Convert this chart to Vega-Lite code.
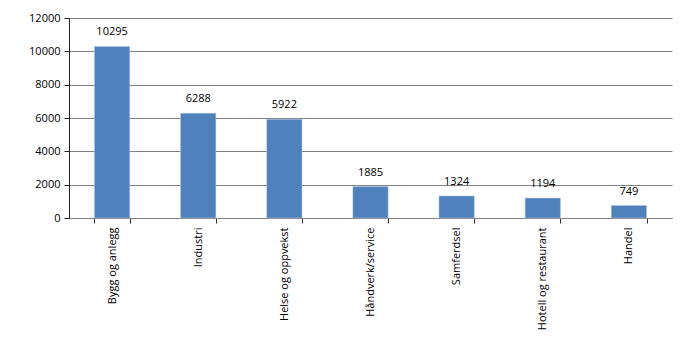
{
  "$schema": "https://vega.github.io/schema/vega-lite/v6.json",
  "autosize": "none",
  "width": 603,
  "height": 200,
  "padding": {"left": 69, "top": 18, "right": 28, "bottom": 144},
  "background": "white",
  "config": {"view": {"stroke": null}, "font": "Open Sans"},
  "data": {"values": [
    {"kategori": "Bygg og anlegg", "antall": 10295},
    {"kategori": "Industri", "antall": 6288},
    {"kategori": "Helse og oppvekst", "antall": 5922},
    {"kategori": "Håndverk/service", "antall": 1885},
    {"kategori": "Samferdsel", "antall": 1324},
    {"kategori": "Hotell og restaurant", "antall": 1194},
    {"kategori": "Handel", "antall": 749}
  ]},
  "encoding": {
    "x": {"field": "kategori", "type": "nominal", "sort": null,
      "scale": {"paddingInner": 0.59, "paddingOuter": 0.295},
      "axis": {"title": null, "labelAngle": -90, "labelAlign": "right", "labelBaseline": "middle",
        "labelFontSize": 11, "labelColor": "#000", "labelPadding": 4, "tickBand": "extent",
        "domainColor": "#808080", "tickColor": "#333", "tickSize": 5, "grid": false}},
    "y": {"field": "antall", "type": "quantitative",
      "scale": {"domain": [0, 12000], "nice": false},
      "axis": {"title": null, "values": [0, 2000, 4000, 6000, 8000, 10000, 12000], "format": "d",
        "labelFontSize": 11, "labelColor": "#000", "labelPadding": 4,
        "domainColor": "#222", "tickColor": "#222", "tickSize": 5,
        "gridColor": "#7f7f7f", "gridOpacity": 1, "gridWidth": 1.2}}
  },
  "layer": [
    {"mark": {"type": "bar", "color": "#4F81BD", "stroke": "#b8cce4", "strokeWidth": 0.5}},
    {"mark": {"type": "text", "baseline": "bottom", "dy": -9, "fontSize": 11, "color": "#000"},
     "encoding": {"text": {"field": "antall", "type": "quantitative", "format": "d"}}}
  ]
}
